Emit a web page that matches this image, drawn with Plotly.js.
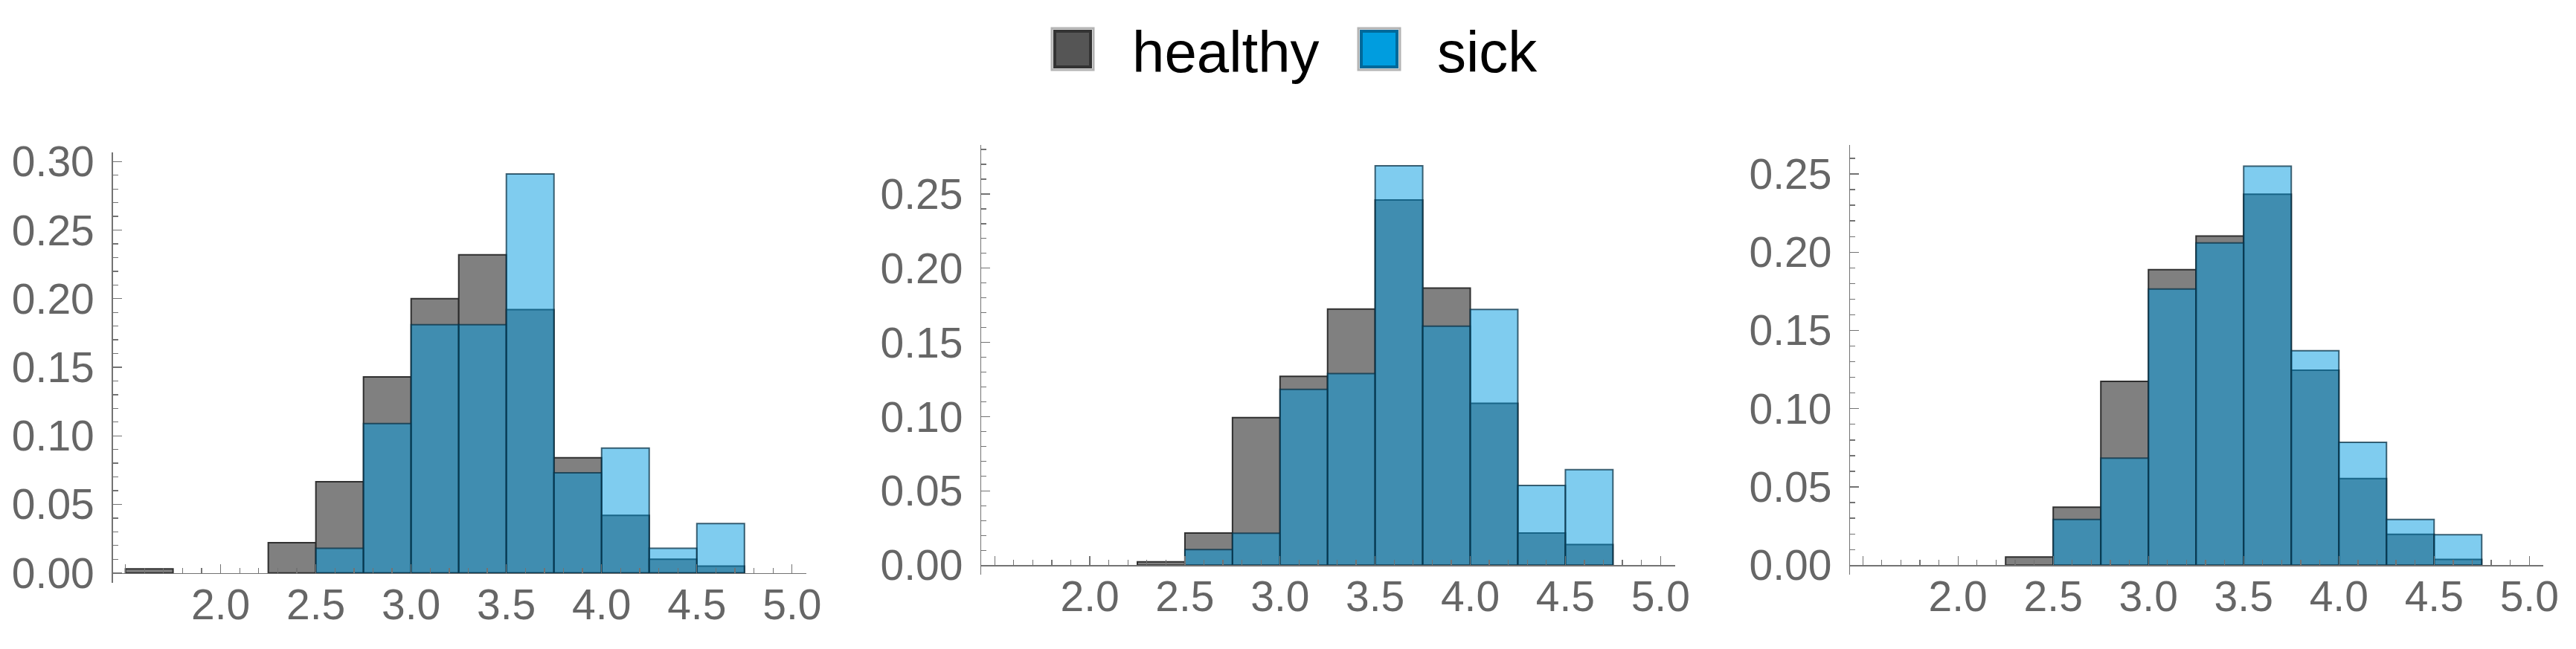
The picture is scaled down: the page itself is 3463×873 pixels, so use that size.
<!DOCTYPE html>
<html>
<head>
<meta charset="utf-8">
<script src="https://cdn.plot.ly/plotly-3.0.1.min.js"></script>
<style>html,body{margin:0;padding:0;background:#fff;}#chart{width:3463px;height:873px;}</style>
</head>
<body>
<div id="chart"></div>
<script>
// Bin centers (bin width 0.25, from 1.5 to 4.75)
const binCenters = [1.625, 1.875, 2.125, 2.375, 2.625, 2.875, 3.125, 3.375, 3.625, 3.875, 4.125, 4.375, 4.625];
const binWidth = 0.25;

// Panel 1
const healthy1 = [0.003, null, null, 0.022, 0.0665, 0.143, 0.200, 0.232, 0.192, 0.084, 0.042, 0.010, 0.005];
const sick1    = [null, null, null, null, 0.018, 0.109, 0.181, 0.181, 0.291, 0.073, 0.091, 0.018, 0.036];
// Panel 2
const healthy2 = [null, null, null, 0.0023, 0.0217, 0.0994, 0.1272, 0.1725, 0.246, 0.1866, 0.109, 0.0217, 0.0139];
const sick2    = [null, null, null, null, 0.0106, 0.0215, 0.1184, 0.129, 0.269, 0.161, 0.1723, 0.0537, 0.0643];
// Panel 3
const healthy3 = [null, null, null, 0.0053, 0.0371, 0.1175, 0.1888, 0.2103, 0.237, 0.1246, 0.0553, 0.0197, 0.0037];
const sick3    = [null, null, null, null, 0.0292, 0.0684, 0.1765, 0.2059, 0.255, 0.137, 0.0785, 0.0292, 0.0195];

const seriesNames = ['healthy', 'sick'];
const xTickVals = [1.5, 2.0, 2.5, 3.0, 3.5, 4.0, 4.5, 5.0];
const xTickText = ['', '2.0', '2.5', '3.0', '3.5', '4.0', '4.5', '5.0'];

const W = 3463, H = 873;
const healthyFill = '#808080';
const healthyLine = 'rgba(40,40,40,0.95)';
const sickFill = 'rgba(0,153,223,0.5)';
const sickLine = 'rgba(10,50,70,0.75)';

const panels = [
  {h: healthy1, s: sick1, xd: [151.7, 1084], yTop: 205, yZero: 770.7, yRange: [-0.00705, 0.3067], xRange: [1.434, 5.075]},
  {h: healthy2, s: sick2, xd: [1319.3, 2251.7], yTop: 195, yZero: 760.3, yRange: [-0.0065, 0.283], xRange: [1.43, 5.076]},
  {h: healthy3, s: sick3, xd: [2487.3, 3418.7], yTop: 195, yZero: 760.3, yRange: [-0.0062, 0.2685], xRange: [1.434, 5.072]}
];

const traces = [];
const layout = {
  width: W, height: H,
  margin: {l: 0, r: 0, t: 0, b: 0},
  paper_bgcolor: '#fff', plot_bgcolor: 'rgba(0,0,0,0)',
  barmode: 'overlay',
  showlegend: false,
  font: {family: 'Liberation Sans, Arial, sans-serif'},
  shapes: [], annotations: []
};

const tickFont = {family: 'Liberation Sans, Arial, sans-serif', size: 57, color: '#666666'};
const axisColor = '#737373';

panels.forEach((p, i) => {
  const n = i === 0 ? '' : String(i + 1);
  const xa = 'x' + n, ya = 'y' + n;
  traces.push({
    type: 'bar', x: binCenters, y: p.h, width: binWidth, name: seriesNames[0],
    xaxis: xa, yaxis: ya,
    marker: {color: healthyFill, line: {color: healthyLine, width: 2}},
    hoverinfo: 'x+y'
  });
  traces.push({
    type: 'bar', x: binCenters, y: p.s, width: binWidth, name: seriesNames[1],
    xaxis: xa, yaxis: ya,
    marker: {color: sickFill, line: {color: sickLine, width: 2}},
    hoverinfo: 'x+y'
  });
  const scale = (p.yZero - p.yTop) / (p.yRange[1]);
  const yBottomPx = p.yZero - p.yRange[0] * scale;
  const yDom = [1 - yBottomPx / H, 1 - p.yTop / H];
  const xDom = [p.xd[0] / W, p.xd[1] / W];
  layout['xaxis' + n] = {
    domain: xDom, range: p.xRange, anchor: 'free', position: 1 - p.yZero / H,
    showgrid: false, zeroline: false, showline: true, linecolor: axisColor, linewidth: 1.5,
    tickmode: 'array', tickvals: xTickVals, ticktext: xTickText,
    ticks: 'inside', ticklen: 12, tickwidth: 1.3, tickcolor: axisColor,
    minor: {tickmode: 'linear', tick0: 0, dtick: 0.1, ticks: 'inside', ticklen: 7, tickwidth: 1.3, tickcolor: axisColor, showgrid: false},
    tickfont: tickFont, ticklabelstandoff: -8, fixedrange: true
  };
  layout['yaxis' + n] = {
    domain: yDom, range: p.yRange, anchor: xa,
    showgrid: false, zeroline: false, showline: true, linecolor: axisColor, linewidth: 1.5,
    tickmode: 'linear', tick0: 0, dtick: 0.05, tickformat: '.2f',
    ticks: 'inside', ticklen: 12, tickwidth: 1.3, tickcolor: axisColor,
    minor: {tickmode: 'linear', tick0: 0, dtick: 0.01, ticks: 'inside', ticklen: 7, tickwidth: 1.3, tickcolor: axisColor, showgrid: false},
    tickfont: tickFont, ticklabelstandoff: 12, fixedrange: true
  };
});

// Legend drawn with shapes + annotations
const legendItems = [
  {name: seriesNames[0], x0: 1414, fill: '#555555', line: '#333333', textX: 1520},
  {name: seriesNames[1], x0: 1826, fill: '#009DDF', line: '#00699A', textX: 1930}
];
const legY0 = 38, legY1 = 94, legSize = 56;
legendItems.forEach(it => {
  layout.shapes.push({type: 'rect', xref: 'paper', yref: 'paper',
    x0: (it.x0) / W, x1: (it.x0 + legSize) / W, y0: 1 - legY1 / H, y1: 1 - legY0 / H,
    fillcolor: 'rgba(0,0,0,0)', line: {color: '#B3B3B3', width: 3}});
  layout.shapes.push({type: 'rect', xref: 'paper', yref: 'paper',
    x0: (it.x0 + 4) / W, x1: (it.x0 + legSize - 4) / W, y0: 1 - (legY1 - 4) / H, y1: 1 - (legY0 + 4) / H,
    fillcolor: it.fill, line: {color: it.line, width: 4}});
  layout.annotations.push({xref: 'paper', yref: 'paper', x: it.textX / W, y: 1 - 70 / H,
    xanchor: 'left', yanchor: 'middle', showarrow: false, text: it.name,
    font: {family: 'Liberation Sans, Arial, sans-serif', size: 78, color: '#000'}});
});

Plotly.newPlot('chart', traces, layout, {staticPlot: true, displayModeBar: false});
</script>
</body>
</html>
